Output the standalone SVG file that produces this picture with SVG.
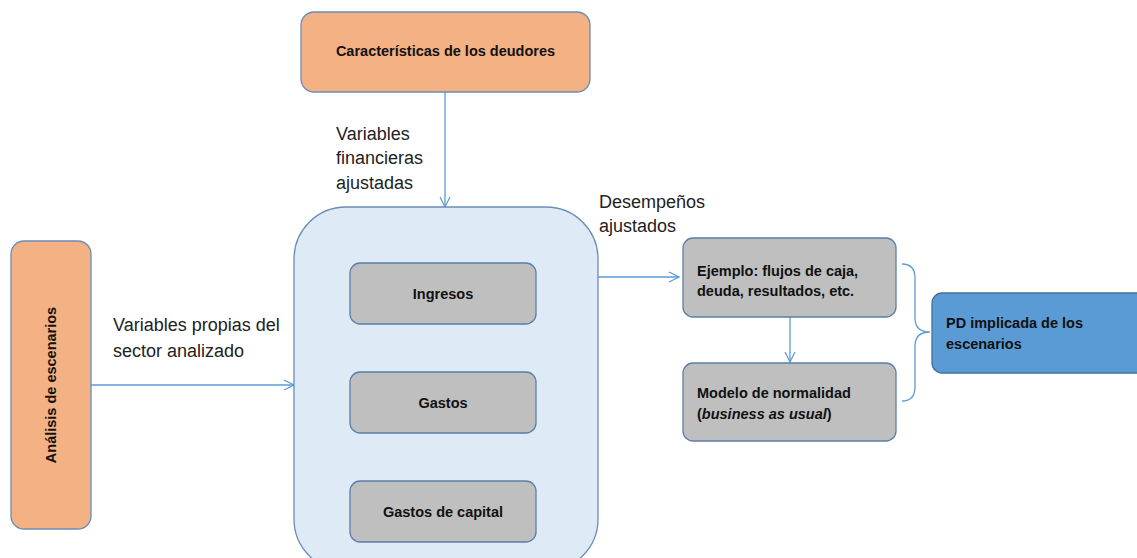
<svg xmlns="http://www.w3.org/2000/svg" width="1137" height="558" viewBox="0 0 1137 558">
<defs>
<marker id="arr" viewBox="0 0 12 12" refX="11" refY="6" markerWidth="12" markerHeight="12" markerUnits="userSpaceOnUse" orient="auto">
<path d="M1,1 L11,6 L1,11" fill="none" stroke="#5B9BD5" stroke-width="1.2"/>
</marker>
<style>
.orange{fill:#F4B183;stroke:#6A8DB5;stroke-width:1.3}
.gray{fill:#BFBFBF;stroke:#5B7FA8;stroke-width:1.3}
.cont{fill:#DEEBF7;stroke:#6A8DB5;stroke-width:1.3}
.blue{fill:#5B9BD5;stroke:#41719C;stroke-width:1.3}
.b{font-family:"Liberation Sans",Arial,sans-serif;font-weight:bold;font-size:14.5px;fill:#111}
.lbl{font-family:"Liberation Sans",Arial,sans-serif;font-size:18px;fill:#222}
.conn{fill:none;stroke:#5B9BD5;stroke-width:1.3}
</style>
</defs>
<rect width="1137" height="558" fill="#fff"/>
<g id="connectors">
<line class="conn" x1="445" y1="92" x2="445" y2="207" marker-end="url(#arr)"/>
<line class="conn" x1="91" y1="385" x2="294" y2="385" marker-end="url(#arr)"/>
<line class="conn" x1="598" y1="277" x2="679" y2="277" marker-end="url(#arr)"/>
<line class="conn" x1="790" y1="317" x2="790" y2="362" marker-end="url(#arr)"/>
<path class="conn" d="M902,264 Q915,264 915,278 L915,318 Q915,332 930,332 Q915,332 915,346 L915,387 Q915,401 902,401"/>
<text class="lbl" x="336" y="140">Variables</text>
<text class="lbl" x="336" y="164">financieras</text>
<text class="lbl" x="336" y="189">ajustadas</text>
<text class="lbl" x="113" y="331">Variables propias del</text>
<text class="lbl" x="113" y="357">sector analizado</text>
<text class="lbl" x="599" y="208">Desempeños</text>
<text class="lbl" x="599" y="232">ajustados</text>
</g>
<g id="caracteristicas">
<rect class="orange" x="301" y="12" width="289" height="80" rx="13"/>
<text class="b" x="445.5" y="56" text-anchor="middle">Características de los deudores</text>
</g>
<g id="analisis">
<rect class="orange" x="11" y="241" width="80" height="288" rx="13"/>
<text class="b" transform="translate(56,385) rotate(-90)" text-anchor="middle">Análisis de escenarios</text>
</g>
<g id="contenedor">
<rect class="cont" x="294" y="207" width="304" height="364" rx="52"/>
</g>
<g id="ingresos">
<rect class="gray" x="350" y="263" width="186" height="61" rx="10"/>
<text class="b" x="443" y="299" text-anchor="middle">Ingresos</text>
</g>
<g id="gastos">
<rect class="gray" x="350" y="372" width="186" height="61" rx="10"/>
<text class="b" x="443" y="408" text-anchor="middle">Gastos</text>
</g>
<g id="gastos-capital">
<rect class="gray" x="350" y="481" width="186" height="61" rx="10"/>
<text class="b" x="443" y="517" text-anchor="middle">Gastos de capital</text>
</g>
<g id="ejemplo">
<rect class="gray" x="683" y="238" width="213" height="79" rx="10"/>
<text class="b" x="697" y="276">Ejemplo: flujos de caja,</text>
<text class="b" x="697" y="296">deuda, resultados, etc.</text>
</g>
<g id="modelo">
<rect class="gray" x="683" y="363" width="213" height="78" rx="10"/>
<text class="b" x="697" y="398">Modelo de normalidad</text>
<text class="b" x="697" y="419">(<tspan font-style="italic">business as usual</tspan>)</text>
</g>
<g id="pd">
<rect class="blue" x="932" y="293" width="220" height="80" rx="10"/>
<text class="b" x="946" y="328">PD implicada de los</text>
<text class="b" x="946" y="349">escenarios</text>
</g>
</svg>
